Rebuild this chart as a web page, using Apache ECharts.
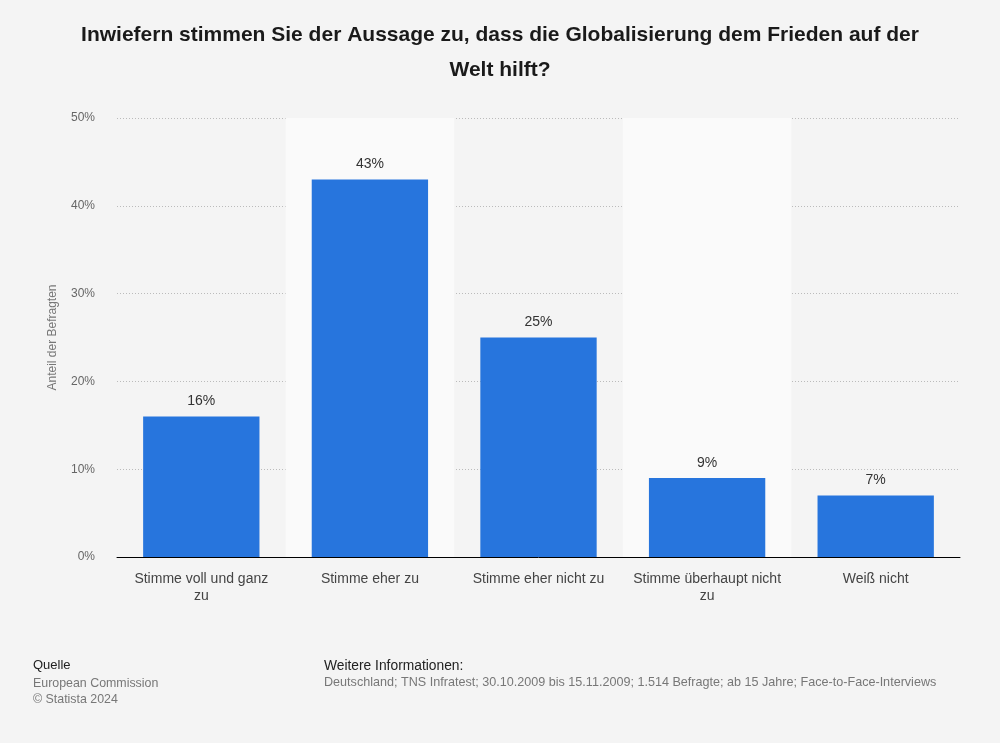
<!DOCTYPE html>
<html><head><meta charset="utf-8">
<script src="https://cdn.jsdelivr.net/npm/echarts@6/dist/echarts.min.js"></script>
<style>html,body{margin:0;padding:0;background:#f4f4f4}#c{width:1000px;height:743px}</style>
</head><body><div id="c"></div>
<script>
const categories = ['Stimme voll und ganz\nzu', 'Stimme eher zu', 'Stimme eher nicht zu', 'Stimme überhaupt nicht\nzu', 'Weiß nicht'];
const values = [16, 43, 25, 9, 7];
const titleText = 'Inwiefern stimmen Sie der Aussage zu, dass die Globalisierung dem Frieden auf der\nWelt hilft?';
const yAxisName = 'Anteil der Befragten';

const chart = echarts.init(document.getElementById('c'));
const F = '"Liberation Sans", Arial, sans-serif';
chart.setOption({
  backgroundColor: '#f4f4f4',
  animation: false,
  title: {
    text: titleText, left: 'center', top: 13,
    textStyle: {fontFamily: F, fontSize: 21, fontWeight: 'bold', color: '#1a1a1a', lineHeight: 35}
  },
  grid: {left: 117, right: 40, top: 118, bottom: 186},
  xAxis: {
    type: 'category', data: categories,
    axisLine: {lineStyle: {color: '#000', width: 1}},
    axisTick: {show: false},
    axisLabel: {fontFamily: F, fontSize: 14, color: '#444', margin: 14, lineHeight: 17, interval: 0},
    splitArea: {show: true, areaStyle: {color: ['rgba(0,0,0,0)', '#fafafa']}}
  },
  yAxis: {
    type: 'value', min: 0, max: 50, interval: 10,
    name: yAxisName, nameLocation: 'middle', nameGap: 58,
    nameTextStyle: {fontFamily: F, fontSize: 12, color: '#777'},
    axisLabel: {formatter: '{value}%', fontFamily: F, fontSize: 12, color: '#666', margin: 22},
    axisLine: {show: false}, axisTick: {show: false},
    splitLine: {lineStyle: {color: '#bbb', type: [1, 2], width: 1}}
  },
  series: [{
    type: 'bar', data: values, barWidth: '69%',
    itemStyle: {color: '#2775dd'},
    label: {show: true, position: 'top', formatter: '{c}%', fontFamily: F, fontSize: 14, color: '#333', distance: 8}
  }],
  graphic: [
    {type: 'text', left: 33, top: 659, style: {text: 'Quelle', font: '13px ' + F, fill: '#222'}},
    {type: 'text', left: 33, top: 676, style: {text: 'European Commission\n© Statista 2024', font: '12.4px ' + F, fill: '#777', lineHeight: 16}},
    {type: 'text', left: 324, top: 659, style: {text: 'Weitere Informationen:', font: '13.8px ' + F, fill: '#222'}},
    {type: 'text', left: 324, top: 676, style: {text: 'Deutschland; TNS Infratest; 30.10.2009 bis 15.11.2009; 1.514 Befragte; ab 15 Jahre; Face-to-Face-Interviews', font: '12.6px ' + F, fill: '#777'}}
  ]
});
</script></body></html>
